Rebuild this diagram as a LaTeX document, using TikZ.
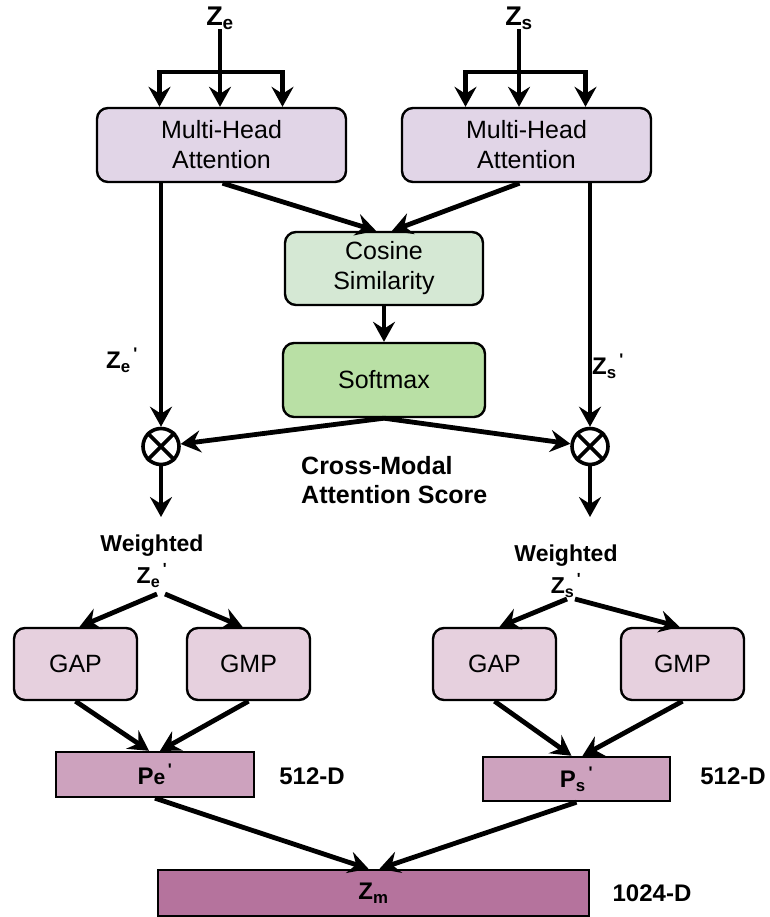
\documentclass[tikz,border=0pt]{standalone}
\usepackage{fontspec}
\setmainfont{Liberation Sans}
\usetikzlibrary{positioning, calc, arrows.meta}
\definecolor{attnPurple}{HTML}{E1D5E7}
\definecolor{cosGreen}{HTML}{D5E8D4}
\definecolor{softGreen}{HTML}{B9E0A5}
\definecolor{poolPink}{HTML}{E6D0DE}
\definecolor{vecPink}{HTML}{CDA2BE}
\definecolor{fusePink}{HTML}{B5739D}
\newcommand{\fs}[1]{\fontsize{#1}{#1}\selectfont}
\newcommand{\pr}{\textsuperscript{\,\textquotesingle}}

\begin{document}
\begin{tikzpicture}[
    % x=1pt, y=-1pt: coordinates, y downwards
    x=1pt, y=-1pt,
    block/.style={draw=black, line width=2.4pt, rounded corners=11pt,
                  align=center, font=\fs{25}, inner sep=0pt},
    mha/.style={block, fill=attnPurple, minimum width=249pt, minimum height=74pt},
    cosbox/.style={block, fill=cosGreen, minimum width=198pt, minimum height=73pt},
    softbox/.style={block, fill=softGreen, minimum width=202pt, minimum height=74pt},
    pool/.style={block, fill=poolPink, minimum width=123pt, minimum height=72pt},
    vec/.style={draw=black, line width=2.4pt, inner sep=0pt,
                font=\bfseries\fs{24}},
    mul/.style={circle, draw=black, line width=3.6pt, minimum size=36pt, inner sep=0pt},
    lbl/.style={font=\bfseries\fs{24}, align=center, inner sep=0pt},
    arr/.style={-{Stealth[length=20pt, width=22pt, inset=7pt]}, line width=4.8pt}
  ]
  \useasboundingbox (0,0) rectangle (769,917);

  % ── Attention branches ──────────────────────────────────────────────────
  \node[lbl, font=\bfseries\fs{27}] (ze) at (220,18) {Z\textsubscript{e}};
  \node[lbl, font=\bfseries\fs{27}] (zs) at (519,18) {Z\textsubscript{s}};

  \node[mha] (mhaL) at (221.5,145) {Multi-Head\\[5pt]Attention};
  \node[mha] (mhaR) at (526.5,145) {Multi-Head\\[5pt]Attention};

  % Q, K, V fan-out above each attention block
  \coordinate (zebar) at (220,72);
  \coordinate (zsbar) at (519,72);
  \draw[arr] (ze.south) -- (zebar) -- (zebar |- mhaL.north);
  \draw[arr] (zebar) -| ([xshift=-62pt]mhaL.north);
  \draw[arr] (zebar) -| ([xshift=61pt]mhaL.north);
  \draw[arr] (zs.south) -- (zsbar) -- (zsbar |- mhaR.north);
  \draw[arr] (zsbar) -| ([xshift=-61pt]mhaR.north);
  \draw[arr] (zsbar) -| ([xshift=59pt]mhaR.north);

  % ── Cross-modal score ───────────────────────────────────────────────────
  \node[cosbox]  (cos)  at (384,268.5) {Cosine\\[5pt]Similarity};
  \node[softbox] (soft) at (384,380)   {Softmax};

  \draw[arr] ([xshift=1pt]mhaL.south) -- ([xshift=-8pt]cos.north);
  \draw[arr] ([xshift=-7pt]mhaR.south) -- ([xshift=8pt]cos.north);
  \draw[arr] (cos) -- (soft);

  \node[mul] (mulL) at (161,446.5) {};
  \node[mul] (mulR) at (590,446.5) {};
  \foreach \m in {mulL, mulR} {
    \draw[line width=3.6pt] (\m.45) -- (\m.225);
    \draw[line width=3.6pt] (\m.135) -- (\m.315);
  }

  \draw[arr] (mulL |- mhaL.south) -- (mulL);
  \draw[arr] (mulR |- mhaR.south) -- (mulR);
  \draw[arr] (soft.south) -- (mulL);
  \draw[arr] (soft.south) -- (mulR);

  \node[lbl, font=\bfseries\fs{24}] (zeP) at (122,360) {Z\textsubscript{e}\pr};
  \node[lbl, font=\bfseries\fs{24}] (zsP) at (608,366) {Z\textsubscript{s}\pr};
  \node[lbl, font=\bfseries\fs{25}, align=left, anchor=west] (score) at (301,480)
        {Cross-Modal\\[4pt]Attention Score};

  % ── Weighted features and pooling ───────────────────────────────────────
  \coordinate (mulLout) at (161,517);
  \coordinate (mulRout) at (590,517);
  \draw[arr] (mulL) -- (mulLout);
  \draw[arr] (mulR) -- (mulRout);

  \node[lbl] (wL) at (152,561) {{\fs{23}Weighted}\\[6pt]{\fs{23}Z\textsubscript{e}\pr}};
  \node[lbl] (wR) at (566,571) {{\fs{23}Weighted}\\[6pt]{\fs{23}Z\textsubscript{s}\pr}};

  \node[pool] (gapL) at (75.5,664)  {GAP};
  \node[pool] (gmpL) at (248.5,664) {GMP};
  \node[pool] (gapR) at (494.5,664) {GAP};
  \node[pool] (gmpR) at (682.5,664) {GMP};

  \coordinate (wLsrc) at (161,594);
  \coordinate (wRsrc) at (571,599);
  \draw[arr] ([xshift=-4pt]wLsrc) -- ([xshift=4pt]gapL.north);
  \draw[arr] ([xshift=4pt]wLsrc)  -- ([xshift=-6pt]gmpL.north);
  \draw[arr] ([xshift=-4pt]wRsrc) -- ([xshift=5pt]gapR.north);
  \draw[arr] ([xshift=4pt]wRsrc)  -- ([xshift=-3pt]gmpR.north);

  % ── Pooled vectors and fusion ───────────────────────────────────────────
  \node[vec, fill=vecPink, minimum width=198pt, minimum height=45pt]
        (pe) at (155,774.5) {P{\fs{21}e}\pr};
  \node[vec, fill=vecPink, minimum width=187pt, minimum height=44pt]
        (ps) at (576.5,779) {P\textsubscript{s}\pr};
  \node[lbl, font=\bfseries\fs{24}] (dimL) at (312,776) {512-D};
  \node[lbl, font=\bfseries\fs{24}] (dimR) at (733,776) {512-D};

  \draw[arr] (gapL.south) -- ([xshift=-6pt]pe.north);
  \draw[arr] (gmpL.south) -- ([xshift=5pt]pe.north);
  \draw[arr] (gapR.south) -- ([xshift=-5pt]ps.north);
  \draw[arr] (gmpR.south) -- ([xshift=6pt]ps.north);

  \node[vec, fill=fusePink, minimum width=431pt, minimum height=46pt]
        (zm) at (373.5,893) {Z\textsubscript{m}};
  \node[lbl, font=\bfseries\fs{24}] (dimM) at (652,893) {1024-D};

  \draw[arr] (pe.south) -- ([xshift=-5pt]zm.north);
  \draw[arr] (ps.south) -- ([xshift=6pt]zm.north);

  \end{tikzpicture}
\end{document}
